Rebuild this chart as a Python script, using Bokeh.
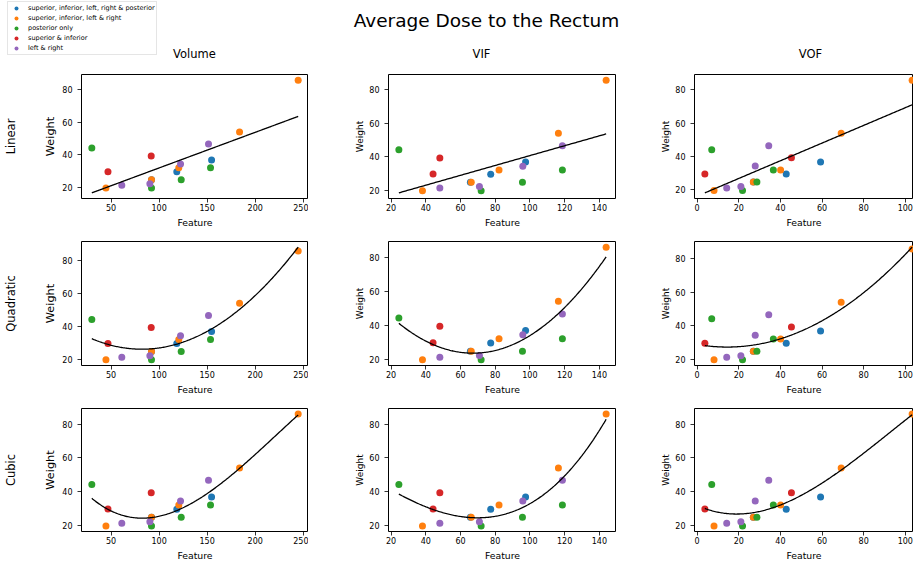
import numpy as np
from bokeh.plotting import figure
from bokeh.layouts import column, row
from bokeh.models import (Range1d, FixedTicker, Label, Legend, LegendItem,
                          LinearAxis)
from bokeh.embed import file_html
from bokeh.resources import INLINE

FONT = "DejaVu Sans"

chart_title = "Average Dose to the Rectum"
feature_names = ["Volume", "VIF", "VOF"]
fit_names = ["Linear", "Quadratic", "Cubic"]
fit_degrees = [1, 2, 3]

group_labels = [
    "superior, inferior, left, right & posterior",
    "superior, inferior, left & right",
    "posterior only",
    "superior & inferior",
    "left & right",
]
group_colors = ["#1f77b4", "#ff7f0e", "#2ca02c", "#d62728", "#9467bd"]

# one entry per plan: group index, weight and the three features
plan_group = [2, 1, 3, 4, 3, 4, 1, 0, 2, 0, 1, 4, 2, 4, 0, 2, 1, 1]
weight = [44.2, 19.6, 29.6, 21.2, 39.3, 22.1, 24.7, 24.7, 19.6,
          29.5, 32.0, 34.3, 24.7, 46.6, 36.8, 32.0, 54.0, 85.9]
volume = [30.0, 44.7, 46.8, 61.2, 91.8, 90.4, 92.1, 92.1, 92.1,
          118.4, 120.5, 122.3, 123.0, 151.4, 154.6, 153.5, 183.7, 244.7]
vif = [24.5, 38.1, 44.2, 48.1, 48.1, 70.9, 66.2, 65.7, 71.9,
       77.4, 82.2, 95.9, 95.7, 118.7, 97.5, 118.7, 116.4, 143.9]
vof = [7.0, 8.1, 3.7, 14.2, 45.3, 21.0, 27.0, 27.0, 21.8,
       42.8, 40.1, 27.9, 28.7, 34.4, 59.3, 36.6, 69.2, 103.3]

volume_ticks = [50, 100, 150, 200, 250]
vif_ticks = [20, 40, 60, 80, 100, 120, 140]
vof_ticks = [0, 20, 40, 60, 80, 100]
weight_ticks = [20, 40, 60, 80]

features = [volume, vif, vof]
feature_ticks = [volume_ticks, vif_ticks, vof_ticks]

# page geometry in pixels
PAGE_W, PAGE_H = 913, 563
HEADER_H = 74
FRAME_W, FRAME_H = 228, 124
col_border_left = [80, 80, 78]
col_widths = [308, 308, PAGE_W - 616]
row_heights = [167, 167, PAGE_H - HEADER_H - 334]
col_title_x = [194, 481, 810]


def padded(lo, hi, frac=0.05):
    span = hi - lo
    return lo - frac * span, hi + frac * span


def style_axes(p, col):
    for ax in (p.xaxis[0], p.yaxis[0]):
        ax.axis_line_color = None
        ax.major_tick_out = 4
        ax.major_tick_in = 0
        ax.major_tick_line_color = "black"
        ax.major_tick_line_width = 0.8
        ax.minor_tick_line_color = None
        ax.major_label_text_font = FONT
        ax.major_label_text_font_size = "8px"
        ax.major_label_text_color = "black"
        ax.axis_label_text_font = FONT
        ax.axis_label_text_font_style = "normal"
        ax.axis_label_text_color = "black"
    p.xaxis.major_label_standoff = 1
    p.xaxis.axis_label_standoff = 3
    p.xaxis.axis_label_text_font_size = "9.3px"
    p.yaxis.major_label_standoff = 5
    if col == 0:
        p.yaxis.axis_label_text_font_size = "11.3px"
        p.yaxis.axis_label_standoff = 2
    else:
        p.yaxis.axis_label_text_font_size = "9px"
        p.yaxis.axis_label_standoff = 1


w = np.array(weight)
grp = np.array(plan_group)

grid_rows = []
for r, (fit_name, deg) in enumerate(zip(fit_names, fit_degrees)):
    figs = []
    for c, feat in enumerate(features):
        x = np.array(feat)
        coef = np.polyfit(x, w, deg)
        xs = np.linspace(x.min(), x.max(), 200)
        ys = np.polyval(coef, xs)

        x0, x1 = padded(x.min(), x.max())
        frame_w = col_widths[c] - col_border_left[c]
        x1 = x0 + (x1 - x0) * frame_w / FRAME_W
        y0, y1 = padded(min(w.min(), ys.min()), max(w.max(), ys.max()))

        p = figure(width=col_widths[c], height=row_heights[r],
                   x_range=Range1d(x0, x1), y_range=Range1d(y0, y1),
                   output_backend="svg", toolbar_location=None,
                   min_border_left=col_border_left[c], min_border_right=0,
                   min_border_top=0,
                   min_border_bottom=row_heights[r] - FRAME_H,
                   background_fill_color="white", border_fill_color="white",
                   outline_line_color="black", outline_line_width=1)
        p.grid.visible = False

        for g, color in enumerate(group_colors):
            m = grp == g
            p.scatter(x[m], w[m], size=7, fill_color=color, line_color=None)
        p.line(xs, ys, line_color="black", line_width=1.3)

        p.xaxis.ticker = FixedTicker(ticks=feature_ticks[c])
        p.yaxis.ticker = FixedTicker(ticks=weight_ticks)
        p.xaxis.axis_label = "Feature"
        p.yaxis.axis_label = "Weight"
        style_axes(p, c)

        if c == 0:
            row_axis = LinearAxis(ticker=FixedTicker(ticks=[]),
                                  axis_label=fit_name,
                                  axis_label_standoff=24,
                                  axis_label_text_font=FONT,
                                  axis_label_text_font_size="11.5px",
                                  axis_label_text_font_style="normal",
                                  axis_label_text_color="black",
                                  axis_line_color=None,
                                  major_tick_out=0, major_tick_in=0,
                                  minor_tick_out=0, minor_tick_in=0,
                                  major_tick_line_color=None,
                                  minor_tick_line_color=None,
                                  major_label_text_font_size="0px")
            p.add_layout(row_axis, "left")
        figs.append(p)
    grid_rows.append(row(*figs, spacing=0))

# header band: title, column headings and the group legend
header = figure(width=PAGE_W, height=HEADER_H,
                x_range=Range1d(0, 1), y_range=Range1d(0, 1),
                output_backend="svg", toolbar_location=None,
                min_border=0, x_axis_location=None, y_axis_location=None,
                outline_line_color=None, background_fill_color="white",
                border_fill_color="white")
header.grid.visible = False

header.add_layout(Label(x=486, y=HEADER_H - 20, x_units="screen",
                        y_units="screen", text=chart_title,
                        text_font=FONT, text_font_size="18.5px",
                        text_align="center", text_baseline="middle",
                        text_color="black"))
for name, cx in zip(feature_names, col_title_x):
    header.add_layout(Label(x=cx, y=HEADER_H - 53, x_units="screen",
                            y_units="screen", text=name,
                            text_font=FONT, text_font_size="11.5px",
                            text_align="center", text_baseline="middle",
                            text_color="black"))

# legend proxies: one off-canvas (NaN) point per group, only the key is shown
items = []
for label, color in zip(group_labels, group_colors):
    rnd = header.scatter(x=[np.nan], y=[np.nan], size=6, fill_color=color,
                         line_color=None)
    items.append(LegendItem(label=label, renderers=[rnd]))

LEG_TOP, LEG_ROW, LEG_PAD = 3, 10, 1
leg_h = LEG_ROW * len(items) + 2 * LEG_PAD
legend = Legend(items=items, location=(7, HEADER_H - LEG_TOP - leg_h),
                margin=0, padding=LEG_PAD, spacing=0,
                glyph_width=14, glyph_height=LEG_ROW, label_height=LEG_ROW,
                label_standoff=5, label_text_font=FONT,
                label_text_font_size="6.5px", label_text_color="black",
                border_line_color="#cccccc", border_line_width=1,
                background_fill_color="white", background_fill_alpha=0.8)
header.add_layout(legend)

layout = column(header, *grid_rows, spacing=0)

with open("out.html", "w") as f:
    f.write(file_html(layout, INLINE))
